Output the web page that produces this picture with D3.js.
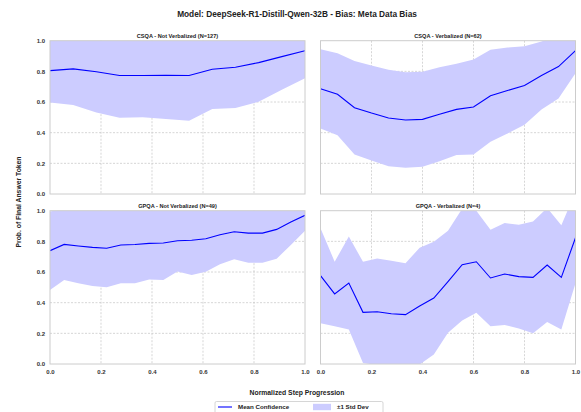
<!DOCTYPE html>
<html><head><meta charset="utf-8">
<script src="https://cdn.jsdelivr.net/npm/d3@7"></script>
<style>
html,body{margin:0;padding:0;background:#fff;}
svg{display:block;font-family:"Liberation Sans",Arial,sans-serif;}
</style></head>
<body>
<svg id="chart" width="581" height="412"></svg>
<script>
const titleText = "Model: DeepSeek-R1-Distill-Qwen-32B - Bias: Meta Data Bias";
const panelTitles = ["CSQA - Not Verbalized (N=127)", "CSQA - Verbalized (N=62)", "GPQA - Not Verbalized (N=49)", "GPQA - Verbalized (N=4)"];
const xTicks = [0.0, 0.2, 0.4, 0.6, 0.8, 1.0];
const yTicks = [0.0, 0.2, 0.4, 0.6, 0.8, 1.0];

const csqaNVMean = [0.805, 0.816, 0.797, 0.773, 0.773, 0.774, 0.773, 0.814, 0.827, 0.857, 0.896, 0.935];
const csqaNVStd  = [0.208, 0.236, 0.265, 0.275, 0.273, 0.285, 0.295, 0.260, 0.266, 0.255, 0.216, 0.180];

const csqaVMean = [0.686, 0.651, 0.563, 0.528, 0.496, 0.483, 0.487, 0.520, 0.552, 0.567, 0.641, 0.675, 0.708, 0.773, 0.831, 0.935];
const csqaVStd  = [0.258, 0.267, 0.305, 0.310, 0.315, 0.312, 0.310, 0.307, 0.297, 0.310, 0.300, 0.280, 0.256, 0.221, 0.208, 0.147];

const gpqaNVMean = [0.739, 0.780, 0.770, 0.761, 0.755, 0.776, 0.780, 0.787, 0.789, 0.804, 0.807, 0.817, 0.843, 0.863, 0.854, 0.854, 0.878, 0.926, 0.970];
const gpqaNVStd  = [0.256, 0.232, 0.244, 0.252, 0.254, 0.250, 0.254, 0.235, 0.241, 0.200, 0.227, 0.215, 0.193, 0.180, 0.193, 0.193, 0.191, 0.150, 0.100];

const gpqaVMean = [0.576, 0.457, 0.528, 0.337, 0.341, 0.328, 0.322, 0.378, 0.430, 0.537, 0.648, 0.667, 0.561, 0.587, 0.570, 0.565, 0.646, 0.565, 0.824];
const gpqaVStd  = [0.310, 0.210, 0.303, 0.330, 0.348, 0.346, 0.335, 0.381, 0.368, 0.333, 0.365, 0.332, 0.315, 0.333, 0.338, 0.364, 0.372, 0.340, 0.298];

const panels = [
  {title: panelTitles[0], mean: csqaNVMean, std: csqaNVStd, col: 0, row: 0},
  {title: panelTitles[1], mean: csqaVMean, std: csqaVStd, col: 1, row: 0},
  {title: panelTitles[2], mean: gpqaNVMean, std: gpqaNVStd, col: 0, row: 1},
  {title: panelTitles[3], mean: gpqaVMean, std: gpqaVStd, col: 1, row: 1}
];

const svg = d3.select("#chart");
const colX = [50, 320.5], pw = 255, rowY = [40.7, 210.7], ph = 153.3;
const lineColor = "#0000ff", fillColor = "#ccccff";

svg.append("text").attr("x", 297).attr("y", 17).attr("text-anchor", "middle")
  .attr("font-size", 8.3).attr("font-weight", "bold").attr("fill", "#222").text(titleText);

panels.forEach((p, i) => {
  const x0 = colX[p.col], y0 = rowY[p.row];
  const g = svg.append("g").attr("transform", `translate(${x0},${y0})`);
  const x = d3.scaleLinear().domain([0, 1]).range([0, pw]);
  const y = d3.scaleLinear().domain([0, 1]).range([ph, 0]);
  const n = p.mean.length;
  const data = p.mean.map((m, k) => ({t: k / (n - 1), m: m, s: p.std[k]}));

  const cid = "clip" + i;
  g.append("clipPath").attr("id", cid).append("rect").attr("width", pw).attr("height", ph);

  const grid = g.append("g");
  grid.selectAll(".gx").data(xTicks.slice(1, -1)).join("line")
    .attr("x1", d => x(d)).attr("x2", d => x(d)).attr("y1", 0).attr("y2", ph)
    .attr("stroke", "#c4c4c4").attr("stroke-width", 0.7).attr("stroke-dasharray", "2,1.5");
  grid.selectAll(".gy").data(yTicks.slice(1, -1)).join("line")
    .attr("y1", d => y(d)).attr("y2", d => y(d)).attr("x1", 0).attr("x2", pw)
    .attr("stroke", "#c4c4c4").attr("stroke-width", 0.7).attr("stroke-dasharray", "2,1.5");

  const area = d3.area().x(d => x(d.t)).y0(d => y(d.m - d.s)).y1(d => y(d.m + d.s));
  g.append("path").datum(data).attr("d", area).attr("fill", fillColor)
    .attr("clip-path", `url(#${cid})`);
  const line = d3.line().x(d => x(d.t)).y(d => y(d.m));
  g.append("path").datum(data).attr("d", line).attr("fill", "none")
    .attr("stroke", lineColor).attr("stroke-width", 1.1).attr("clip-path", `url(#${cid})`);

  g.append("rect").attr("width", pw).attr("height", ph).attr("fill", "none")
    .attr("stroke", "#cccccc").attr("stroke-width", 1);

  g.append("text").attr("x", pw / 2).attr("y", -3).attr("text-anchor", "middle")
    .attr("font-size", 5.6).attr("font-weight", "bold").attr("fill", "#222").text(p.title);

  if (p.col === 0) {
    const ya = d3.axisLeft(y).tickValues(yTicks).tickFormat(d3.format(".1f")).tickSize(0).tickPadding(5);
    const ag = g.append("g").call(ya);
    ag.select(".domain").remove();
    ag.selectAll("text").attr("font-size", 6).attr("font-weight", "bold").attr("fill", "#333")
      .attr("font-family", "Liberation Sans, Arial, sans-serif");
  }
  if (p.row === 1) {
    const xa = d3.axisBottom(x).tickValues(xTicks).tickFormat(d3.format(".1f")).tickSize(0).tickPadding(6);
    const ag = g.append("g").attr("transform", `translate(0,${ph})`).call(xa);
    ag.select(".domain").remove();
    ag.selectAll("text").attr("font-size", 6).attr("font-weight", "bold").attr("fill", "#333")
      .attr("font-family", "Liberation Sans, Arial, sans-serif");
  }
});

svg.append("text").attr("transform", "translate(21,202) rotate(-90)").attr("text-anchor", "middle")
  .attr("font-size", 6.8).attr("font-weight", "bold").attr("fill", "#222").text("Prob. of Final Answer Token");
svg.append("text").attr("x", 297).attr("y", 395).attr("text-anchor", "middle")
  .attr("font-size", 6.8).attr("font-weight", "bold").attr("fill", "#222").text("Normalized Step Progression");

const lg = svg.append("g").attr("transform", "translate(215,401.5)");
lg.append("rect").attr("width", 168).attr("height", 14).attr("rx", 1.5).attr("fill", "#fff")
  .attr("stroke", "#cccccc").attr("stroke-width", 0.8);
lg.append("line").attr("x1", 3).attr("x2", 17).attr("y1", 5.5).attr("y2", 5.5)
  .attr("stroke", lineColor).attr("stroke-width", 1.1);
lg.append("text").attr("x", 23).attr("y", 7.7).attr("font-size", 6.2).attr("font-weight", "bold")
  .attr("fill", "#222").text("Mean Confidence");
lg.append("rect").attr("x", 98).attr("y", 2.3).attr("width", 18).attr("height", 6.4).attr("fill", fillColor);
lg.append("text").attr("x", 122).attr("y", 7.7).attr("font-size", 6.2).attr("font-weight", "bold")
  .attr("fill", "#222").text("±1 Std Dev");
</script>
</body></html>
